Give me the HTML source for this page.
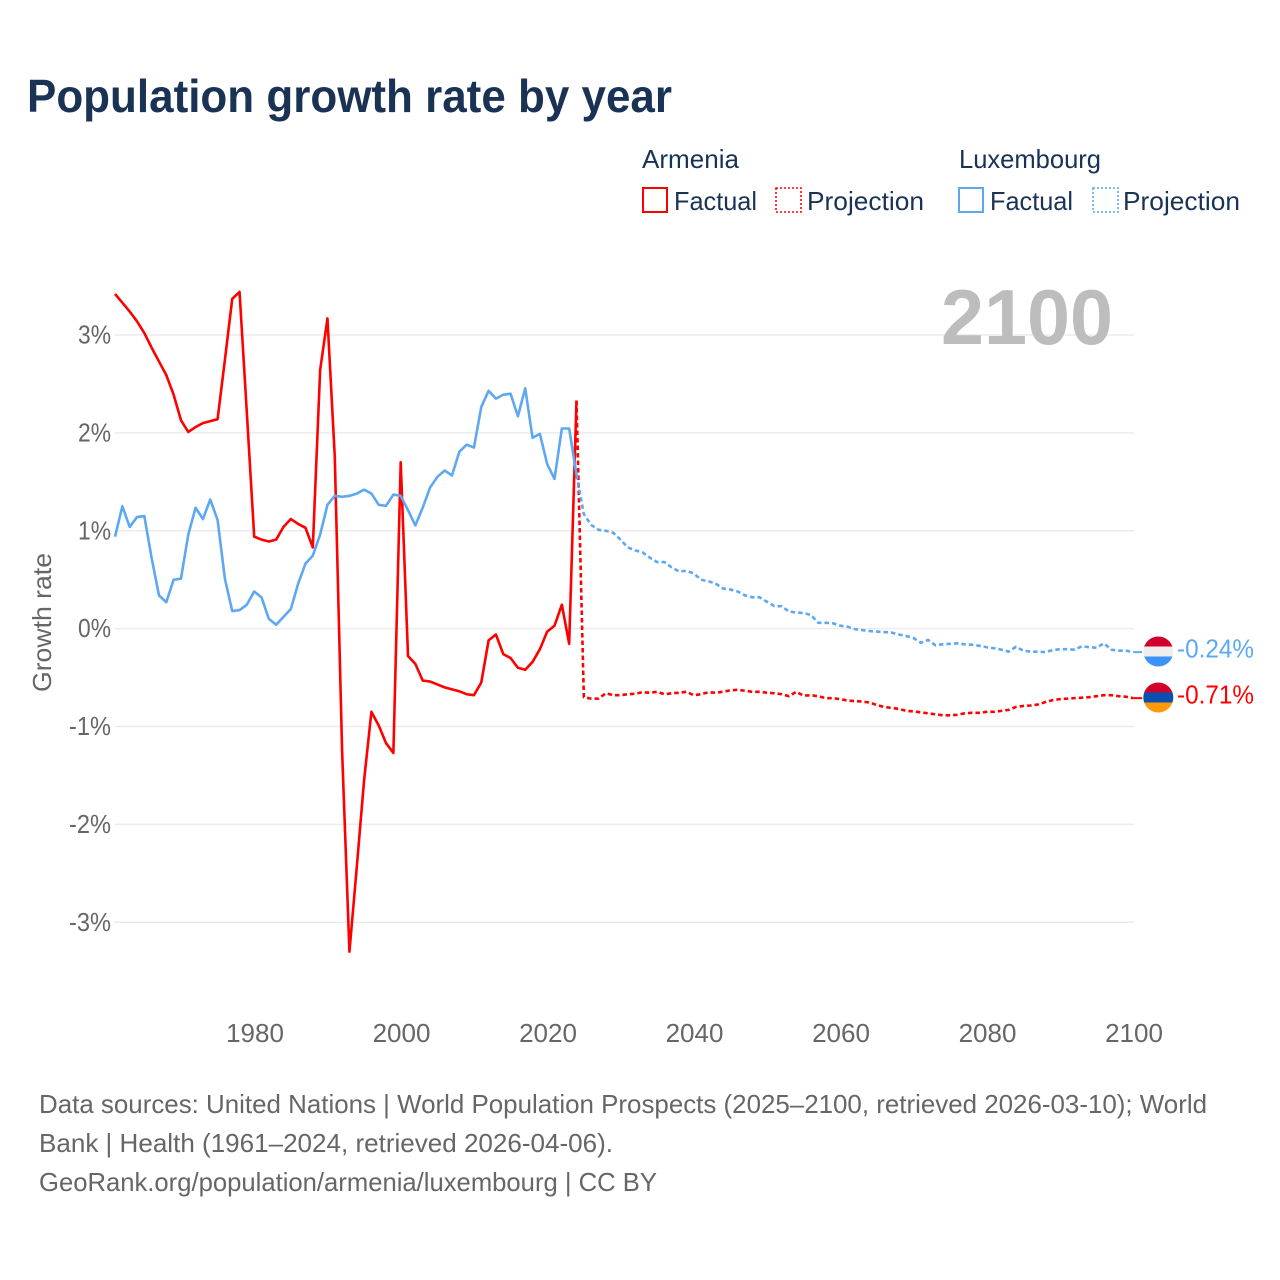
<!DOCTYPE html>
<html lang="en">
<head>
<meta charset="utf-8">
<title>Population growth rate by year</title>
<style>
  html, body { margin: 0; padding: 0; background: #fff; }
  svg { display: block; }
  text { font-family: "Liberation Sans", sans-serif; }
</style>
</head>
<body>
<svg id="chart" xmlns="http://www.w3.org/2000/svg" width="1280" height="1280" viewBox="0 0 1280 1280">
  <rect x="0" y="0" width="1280" height="1280" fill="#ffffff"/>
  <text x="27" y="112" font-size="46" font-weight="700" fill="#1a3354" textLength="645" lengthAdjust="spacingAndGlyphs">Population growth rate by year</text>

  <g font-size="26" fill="#1a3354">
    <text x="642" y="168" textLength="97" lengthAdjust="spacingAndGlyphs">Armenia</text>
    <text x="959" y="168" textLength="142" lengthAdjust="spacingAndGlyphs">Luxembourg</text>
    <rect x="643" y="188" width="24" height="24" fill="none" stroke="#ff0000" stroke-width="2"/>
    <text x="674" y="210" textLength="83" lengthAdjust="spacingAndGlyphs">Factual</text>
    <rect x="776" y="188" width="25" height="24" fill="none" stroke="#ff0000" stroke-width="1.6" stroke-dasharray="2 2"/>
    <text x="807" y="210" textLength="117" lengthAdjust="spacingAndGlyphs">Projection</text>
    <rect x="959" y="188" width="24" height="24" fill="none" stroke="#5da8f0" stroke-width="2"/>
    <text x="990" y="210" textLength="83" lengthAdjust="spacingAndGlyphs">Factual</text>
    <rect x="1093" y="188" width="25" height="24" fill="none" stroke="#5da8f0" stroke-width="1.6" stroke-dasharray="2 2"/>
    <text x="1123" y="210" textLength="117" lengthAdjust="spacingAndGlyphs">Projection</text>
  </g>

  <g id="grid"></g>
  <text x="941" y="344" font-size="78" font-weight="700" fill="#bdbdbd" textLength="172" lengthAdjust="spacingAndGlyphs">2100</text>
  <g id="yticks" font-size="26" fill="#666666"></g>
  <g id="xticks" font-size="26" fill="#666666"></g>
  <text transform="translate(51,692) rotate(-90)" font-size="26" fill="#666666" textLength="139" lengthAdjust="spacingAndGlyphs">Growth rate</text>
  <g id="series" fill="none" stroke-linejoin="round"></g>

  <defs>
    <clipPath id="flag-clip-lu"><circle cx="1158.3" cy="651.5" r="15"/></clipPath>
    <clipPath id="flag-clip-am"><circle cx="1158.3" cy="697.5" r="15"/></clipPath>
  </defs>
  <g clip-path="url(#flag-clip-lu)">
    <rect x="1143" y="636" width="31" height="11" fill="#d0022c"/>
    <rect x="1143" y="646.5" width="31" height="10" fill="#eeeeee"/>
    <rect x="1143" y="656.5" width="31" height="11" fill="#3b93f5"/>
  </g>
  <g clip-path="url(#flag-clip-am)">
    <rect x="1143" y="682" width="31" height="11" fill="#d0022c"/>
    <rect x="1143" y="692.5" width="31" height="10" fill="#0a50b0"/>
    <rect x="1143" y="702.5" width="31" height="11" fill="#ff9a0a"/>
  </g>
  <text x="1177" y="657.5" font-size="26" fill="#5da8f0" textLength="77" lengthAdjust="spacingAndGlyphs">-0.24%</text>
  <text x="1177" y="703.5" font-size="26" fill="#ff0000" textLength="77" lengthAdjust="spacingAndGlyphs">-0.71%</text>

  <g font-size="26" fill="#666666">
    <text x="39" y="1113" textLength="1168" lengthAdjust="spacingAndGlyphs">Data sources: United Nations | World Population Prospects (2025–2100, retrieved 2026-03-10); World</text>
    <text x="39" y="1152" textLength="574" lengthAdjust="spacingAndGlyphs">Bank | Health (1961–2024, retrieved 2026-04-06).</text>
    <text x="39" y="1191" textLength="618" lengthAdjust="spacingAndGlyphs">GeoRank.org/population/armenia/luxembourg | CC BY</text>
  </g>
</svg>

<script>
var yTickValues = [3, 2, 1, 0, -1, -2, -3];
var yTickLabels = ["3%", "2%", "1%", "0%", "-1%", "-2%", "-3%"];
var xTickYears = [1980, 2000, 2020, 2040, 2060, 2080, 2100];
var xTickLabels = ["1980", "2000", "2020", "2040", "2060", "2080", "2100"];

var factualStartYear = 1961;
var projectionStartYear = 2024;

var armeniaFactual = [
  3.42, 3.33, 3.24, 3.14, 3.02, 2.87, 2.73, 2.59, 2.39, 2.13,
  2.01, 2.06, 2.10, 2.12, 2.14, 2.745, 3.37, 3.44, 2.20, 0.94,
  0.91, 0.89, 0.91, 1.04, 1.12, 1.07, 1.03, 0.83, 2.64, 3.17,
  1.76, -1.25, -3.30, -2.44, -1.55, -0.85, -0.99, -1.17, -1.27, 1.70,
  -0.28, -0.36, -0.53, -0.54, -0.57, -0.60, -0.62, -0.64, -0.67, -0.68,
  -0.55, -0.12, -0.06, -0.26, -0.30, -0.40, -0.42, -0.34, -0.21, -0.03,
  0.03, 0.245, -0.155, 2.33
];
var armeniaProjection = [
  2.33,
  -0.70, -0.715, -0.715, -0.66, -0.68, -0.68,
  -0.67, -0.665, -0.65, -0.655, -0.645, -0.67, -0.66, -0.655, -0.645, -0.68,
  -0.67, -0.65, -0.655, -0.645, -0.63, -0.625, -0.635, -0.645, -0.645, -0.655,
  -0.66, -0.67, -0.69, -0.645, -0.685, -0.68, -0.69, -0.71, -0.71, -0.72,
  -0.735, -0.74, -0.745, -0.755, -0.78, -0.80, -0.81, -0.82, -0.84, -0.845,
  -0.855, -0.865, -0.875, -0.885, -0.885, -0.88, -0.865, -0.86, -0.86, -0.85,
  -0.85, -0.84, -0.83, -0.80, -0.79, -0.785, -0.775, -0.75, -0.73, -0.72,
  -0.715, -0.71, -0.705, -0.70, -0.69, -0.68, -0.68, -0.69, -0.695, -0.71
];
var luxembourgFactual = [
  0.94, 1.25, 1.04, 1.14, 1.15, 0.72, 0.34, 0.27, 0.50, 0.51,
  0.96, 1.235, 1.12, 1.32, 1.11, 0.51, 0.18, 0.19, 0.245, 0.38,
  0.32, 0.10, 0.04, 0.12, 0.20, 0.46, 0.665, 0.745, 0.96, 1.265,
  1.357, 1.347, 1.357, 1.38, 1.42, 1.38, 1.265, 1.255, 1.37, 1.357,
  1.21, 1.055, 1.235, 1.44, 1.55, 1.615, 1.565, 1.806, 1.88, 1.85,
  2.265, 2.43, 2.35, 2.39, 2.40, 2.17, 2.455, 1.95, 1.99, 1.68,
  1.53, 2.045, 2.045, 1.57
];
var luxembourgProjection = [
  1.57,
  1.17, 1.06, 1.01, 1.00, 0.98, 0.91,
  0.83, 0.80, 0.78, 0.725, 0.68, 0.68, 0.625, 0.585, 0.59, 0.565,
  0.50, 0.485, 0.46, 0.41, 0.40, 0.38, 0.34, 0.32, 0.32, 0.275,
  0.23, 0.23, 0.175, 0.165, 0.16, 0.14, 0.06, 0.06, 0.055, 0.03,
  0.02, -0.005, -0.015, -0.025, -0.03, -0.035, -0.04, -0.06, -0.075, -0.095,
  -0.145, -0.115, -0.17, -0.16, -0.155, -0.15, -0.16, -0.165, -0.175, -0.19,
  -0.20, -0.215, -0.235, -0.185, -0.225, -0.235, -0.235, -0.24, -0.22, -0.21,
  -0.21, -0.215, -0.18, -0.19, -0.195, -0.15, -0.215, -0.225, -0.225, -0.24
];

var SVG_NS = "http://www.w3.org/2000/svg";

function xScale(year) {
  return 1133.2 + (year - 2100) * 7.325;
}
function yScale(value) {
  return 628.65 - value * 97.88;
}
function seriesPoints(values, startYear) {
  return values.map(function (v, i) {
    return xScale(startYear + i).toFixed(2) + "," + yScale(v).toFixed(2);
  }).join(" ");
}

var gridGroup = document.getElementById("grid");
var yTickGroup = document.getElementById("yticks");
var xTickGroup = document.getElementById("xticks");
var seriesGroup = document.getElementById("series");

yTickValues.forEach(function (value, i) {
  var line = document.createElementNS(SVG_NS, "line");
  
  
  line.setAttribute("x1", xScale(1961) - 0.5);
  line.setAttribute("x2", xScale(2100) + 0.8);
  line.setAttribute("y1", yScale(value));
  line.setAttribute("y2", yScale(value));
  line.setAttribute("stroke", "#ececec");
  line.setAttribute("stroke-width", "1.5");
  gridGroup.appendChild(line);

  var label = document.createElementNS(SVG_NS, "text");
  
  
  label.setAttribute("x", 111);
  label.setAttribute("y", yScale(value) + 8.5);
  label.setAttribute("text-anchor", "end");
  label.setAttribute("textLength", value < 0 ? 42 : 33);
  label.setAttribute("lengthAdjust", "spacingAndGlyphs");
  label.textContent = yTickLabels[i];
  yTickGroup.appendChild(label);
});

xTickYears.forEach(function (year, i) {
  var label = document.createElementNS(SVG_NS, "text");
  
  
  label.setAttribute("x", xScale(year) + 0.8);
  label.setAttribute("y", 1042);
  label.setAttribute("text-anchor", "middle");
  label.textContent = xTickLabels[i];
  xTickGroup.appendChild(label);
});

function drawLine(values, startYear, color, dashed, name) {
  var poly = document.createElementNS(SVG_NS, "polyline");
  
  
  poly.setAttribute("points", seriesPoints(values, startYear));
  poly.setAttribute("stroke", color);
  poly.setAttribute("stroke-width", "2.6");
  if (dashed) {
    poly.setAttribute("stroke-dasharray", "4.5 3");
  }
  seriesGroup.appendChild(poly);
}

function drawConnector(values, color, name) {
  var last = values[values.length - 1];
  var connector = document.createElementNS(SVG_NS, "line");
  
  
  connector.setAttribute("x1", xScale(2100));
  connector.setAttribute("x2", xScale(2100) + 9);
  connector.setAttribute("y1", yScale(last));
  connector.setAttribute("y2", yScale(last));
  connector.setAttribute("stroke", color);
  connector.setAttribute("stroke-width", "2");
  seriesGroup.appendChild(connector);
}

drawLine(armeniaFactual, factualStartYear, "#ff0000", false, "armenia-factual-line");
drawLine(armeniaProjection, projectionStartYear, "#ff0000", true, "armenia-projection-line");
drawLine(luxembourgFactual, factualStartYear, "#5da8f0", false, "luxembourg-factual-line");
drawLine(luxembourgProjection, projectionStartYear, "#5da8f0", true, "luxembourg-projection-line");
drawConnector(armeniaProjection, "#ff0000", "armenia-end-connector");
drawConnector(luxembourgProjection, "#5da8f0", "luxembourg-end-connector");
</script>
</body>
</html>
